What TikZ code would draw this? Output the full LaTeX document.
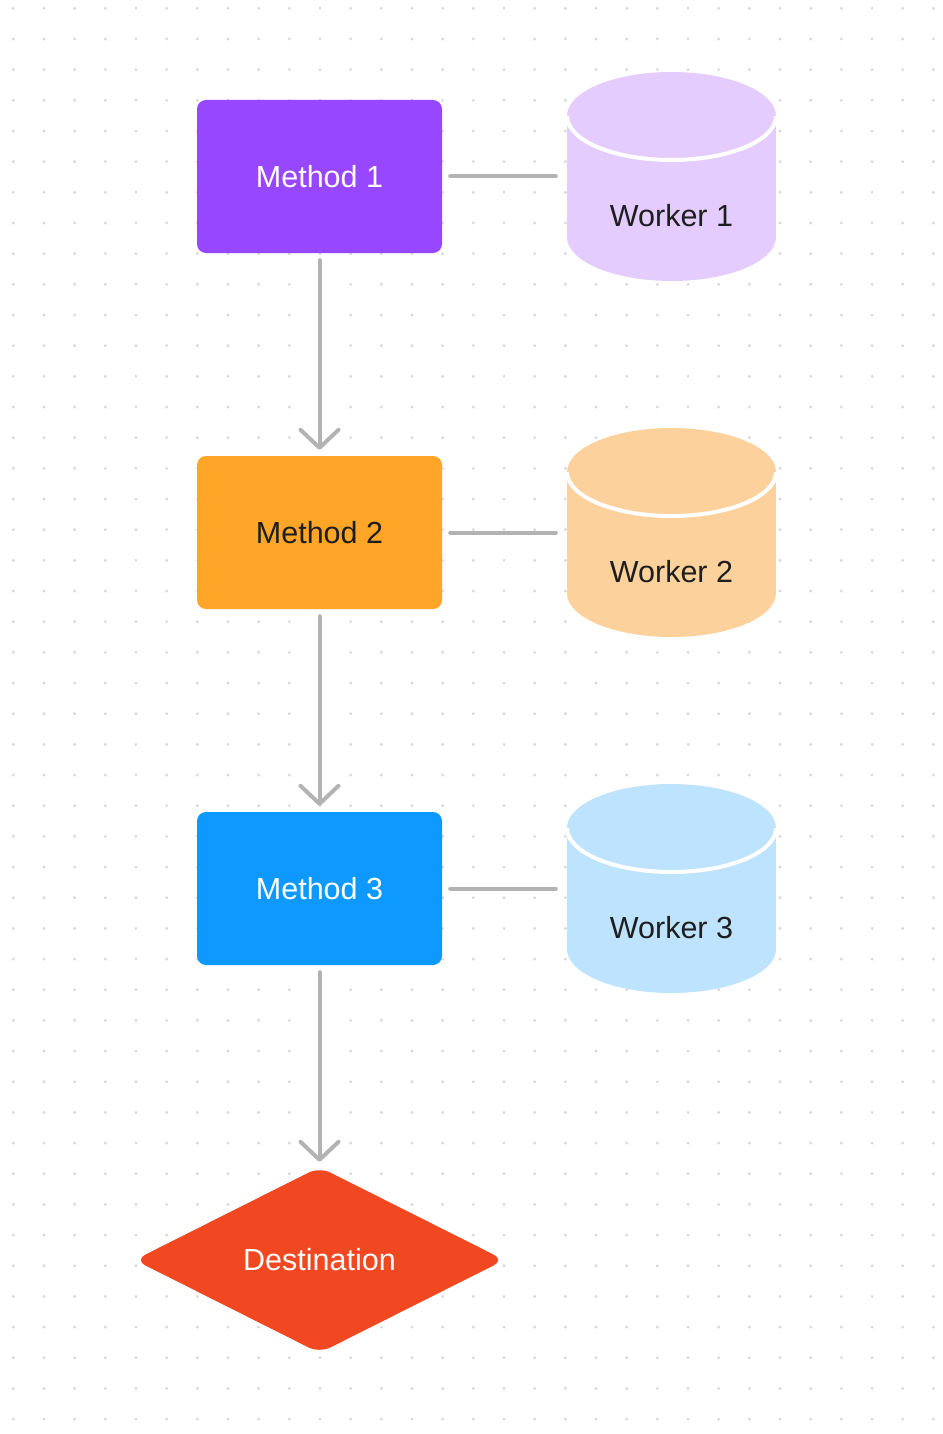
\documentclass[tikz,border=0pt]{standalone}
\usepackage{fontspec}
\setmainfont{Liberation Sans}
\usetikzlibrary{shapes.geometric,arrows.meta}
\definecolor{dotgrey}{HTML}{D9D9D9}
\definecolor{linegrey}{HTML}{B3B3B3}
\definecolor{violetA}{HTML}{9747FF}
\definecolor{violetB}{HTML}{E4CCFF}
\definecolor{orangeA}{HTML}{FFA629}
\definecolor{orangeB}{HTML}{FCD19C}
\definecolor{blueA}{HTML}{0D99FF}
\definecolor{blueB}{HTML}{BDE3FF}
\definecolor{redA}{HTML}{F24822}
\definecolor{darktext}{HTML}{1E1E1E}
\tikzset{
  methodbox/.style={rectangle, rounded corners=9pt, minimum width=245pt, minimum height=153pt, inner sep=0pt, font=\fontsize{30.5}{36}\selectfont},
  cylbox/.style={rectangle, minimum width=209pt, minimum height=209pt, inner sep=0pt},
  cyllabel/.style={font=\fontsize{30.5}{36}\selectfont, text=darktext, inner sep=0pt},
  link/.style={draw=linegrey, line width=4pt, line cap=round},
  flow/.style={draw=linegrey, line width=4pt, line cap=round, -{Straight Barb[length=18pt,width=38pt,round]}},
}
\begin{document}
\begin{tikzpicture}[x=1pt,y=-1pt]
\useasboundingbox[fill=white] (0,0) rectangle (942,1434);
% dot grid
\foreach \i in {0,...,30}{
  \foreach \j in {0,...,46}{
    \fill[dotgrey] (13.3+30.67*\i, 8.3+30.67*\j) circle[radius=1.6pt];
  }
}
% cylinders
\foreach \ty/\col in {116/violetB, 472/orangeB, 828/blueB}{
  \fill[\col] (567,\ty) rectangle (776,\ty+121);
  \fill[\col] (671.5,\ty+121) ellipse[x radius=104.5pt, y radius=44pt];
  \fill[\col] (671.5,\ty) ellipse[x radius=104.5pt, y radius=44pt];
  \draw[white, line width=4pt] (567,\ty) arc[start angle=180, end angle=360, x radius=104.5pt, y radius=44pt];
}
\node[cylbox] (w1) at (671.5,176.5) {};
\node[cylbox] (w2) at (671.5,532.5) {};
\node[cylbox] (w3) at (671.5,888.5) {};
\node[cyllabel] (w1t) at (671.5,216) {Worker 1};
\node[cyllabel] (w2t) at (671.5,572) {Worker 2};
\node[cyllabel] (w3t) at (671.5,928) {Worker 3};
% methods
\node[methodbox, fill=violetA, text=white] (m1) at (319.5,176.5) {Method 1};
\node[methodbox, fill=orangeA, text=darktext] (m2) at (319.5,532.5) {Method 2};
\node[methodbox, fill=blueA, text=white] (m3) at (319.5,888.5) {Method 3};
% destination
\node[diamond, fill=redA, text=white, rounded corners=12pt, minimum width=370pt, minimum height=186pt, inner sep=0pt, aspect=2, font=\fontsize{30.5}{36}\selectfont] (d) at (319.5,1260) {Destination};
% links
\draw[link, shorten <=8pt, shorten >=11pt] (m1.east) -- (w1.west);
\draw[link, shorten <=8pt, shorten >=11pt] (m2.east) -- (w2.west);
\draw[link, shorten <=8pt, shorten >=11pt] (m3.east) -- (w3.west);
% flow arrows
\draw[flow, shorten <=7pt, shorten >=6pt] (m1.south) -- (m2.north);
\draw[flow, shorten <=7pt, shorten >=6pt] (m2.south) -- (m3.north);
\draw[flow, shorten <=7pt, shorten >=5pt] (m3.south) -- (d.north);
\end{tikzpicture}
\end{document}
